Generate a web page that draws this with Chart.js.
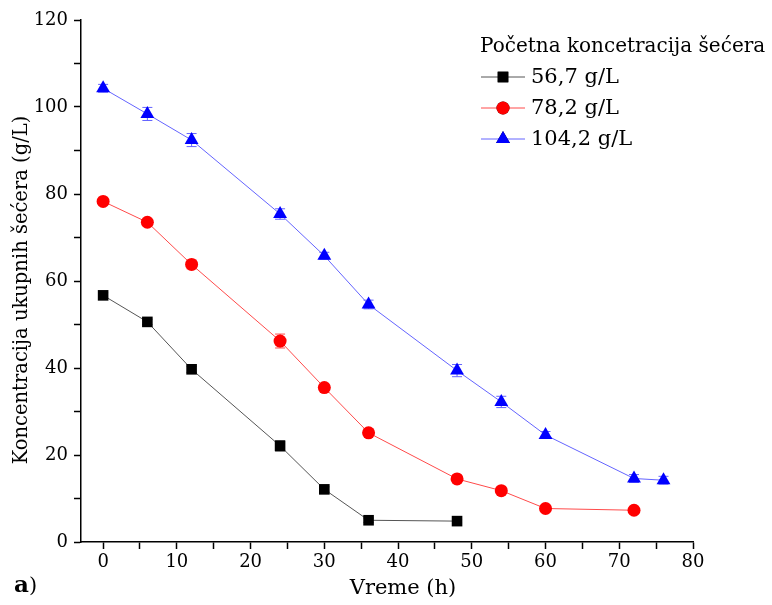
<!DOCTYPE html>
<html lang="sr">
<head>
  <meta charset="UTF-8" />
  <title>Koncentracija šećera</title>
  <script src="https://cdn.jsdelivr.net/npm/chart.js"></script>
  <style>
    body { margin: 0; background: #fff; }
    #wrap { width: 772px; height: 605px; }
  </style>
</head>
<body>
  <div id="wrap"><canvas id="grafik"></canvas></div>

  <script>
    // Podaci (vreme u h, koncentracija u g/L)
    const vreme1 = [0, 6, 12, 24, 30, 36, 48];
    const serija1 = [56.7, 50.6, 39.7, 22.1, 12.1, 5.0, 4.8];
    const greska1 = [0.6, 0.6, 0.7, 1.2, 0.6, 0.5, 0.4];

    const vreme2 = [0, 6, 12, 24, 30, 36, 48, 54, 60, 72];
    const serija2 = [78.3, 73.5, 63.8, 46.2, 35.5, 25.1, 14.5, 11.8, 7.7, 7.3];
    const greska2 = [0.6, 0.6, 1.0, 1.6, 0.6, 0.6, 0.5, 0.5, 0.5, 0.5];

    const vreme3 = [0, 6, 12, 24, 30, 36, 48, 54, 60, 72, 76];
    const serija3 = [104.3, 98.4, 92.4, 75.4, 65.8, 54.6, 39.4, 32.2, 24.6, 14.6, 14.2];
    const greska3 = [0.9, 1.5, 1.5, 1.2, 0.8, 1.0, 1.4, 1.3, 0.8, 0.9, 0.9];

    const nazivi = ['56,7 g/L', '78,2 g/L', '104,2 g/L'];
    const naslovLegende = 'Početna koncetracija šećera';
    const naslovX = 'Vreme (h)';
    const naslovY = 'Koncentracija ukupnih šećera (g/L)';

    const xTicks = [0, 10, 20, 30, 40, 50, 60, 70, 80];
    const yTicks = [0, 20, 40, 60, 80, 100, 120];

    const serif = "'DejaVu Serif', 'Liberation Serif', serif";

    function tacke(xs, ys) {
      return xs.map((x, i) => ({ x: x, y: ys[i] }));
    }

    // Error bars
    const errorBars = {
      id: 'errorBars',
      beforeDatasetDraw(chart, args) {
        const ds = chart.data.datasets[args.index];
        if (!ds.greske) return;
        const ctx = chart.ctx;
        const ys = chart.scales.y;
        const meta = args.meta;
        ctx.save();
        ctx.strokeStyle = ds.borderColor;
        ctx.lineWidth = 1;
        meta.data.forEach((pt, i) => {
          const v = ds.data[i].y;
          const e = ds.greske[i];
          const yTop = ys.getPixelForValue(v + e);
          const yBot = ys.getPixelForValue(v - e);
          ctx.beginPath();
          ctx.moveTo(pt.x, yTop); ctx.lineTo(pt.x, yBot);
          ctx.moveTo(pt.x - 5, yTop); ctx.lineTo(pt.x + 5, yTop);
          ctx.moveTo(pt.x - 5, yBot); ctx.lineTo(pt.x + 5, yBot);
          ctx.stroke();
        });
        ctx.restore();
      }
    };

    // Legenda, naslovi osa i oznaka "a)"
    const legenda = {
      id: 'legenda',
      afterDraw(chart) {
        const ctx = chart.ctx;
        ctx.save();
        ctx.fillStyle = '#000';
        ctx.textBaseline = 'middle';
        ctx.textAlign = 'left';
        ctx.font = "20px " + serif;
        ctx.fillText(naslovLegende, 480, 47);
        ctx.font = "21px " + serif;
        chart.data.datasets.forEach((ds, i) => {
          const y = 77 + i * 31;
          ctx.strokeStyle = ds.borderColor;
          ctx.lineWidth = 1;
          ctx.beginPath();
          ctx.moveTo(481, y); ctx.lineTo(525, y);
          ctx.stroke();
          Chart.helpers.drawPoint(ctx, {
            pointStyle: ds.pointStyle,
            radius: ds.pointRadius,
            borderWidth: 0
          }, 503, y);
          ctx.fillStyle = ds.pointBackgroundColor;
          ctx.fill();
          ctx.fillStyle = '#000';
          ctx.fillText(ds.label, 531, y + 1);
        });

        // naslovi osa
        ctx.textAlign = 'center';
        ctx.font = "21px " + serif;
        ctx.fillText(naslovX, 403, 589);
        ctx.save();
        ctx.translate(22, 290);
        ctx.rotate(-Math.PI / 2);
        ctx.font = "19.5px " + serif;
        ctx.fillText(naslovY, 0, 0);
        ctx.restore();

        ctx.textAlign = 'left';
        ctx.font = "bold 23px " + serif;
        ctx.textBaseline = 'alphabetic';
        ctx.fillText('a', 14, 592);
        const w = ctx.measureText('a').width;
        ctx.font = "21px " + serif;
        ctx.fillText(')', 14 + w, 592);
        ctx.restore();
      }
    };

    new Chart(document.getElementById('grafik'), {
      type: 'line',
      data: {
        datasets: [
          {
            label: nazivi[0],
            data: tacke(vreme1, serija1),
            greske: greska1,
            borderColor: '#555555',
            borderWidth: 1,
            pointStyle: 'rect',
            pointRadius: 7.5,
            pointBackgroundColor: '#000000',
            pointBorderWidth: 0
          },
          {
            label: nazivi[1],
            data: tacke(vreme2, serija2),
            greske: greska2,
            borderColor: '#ff4a4a',
            borderWidth: 1,
            pointStyle: 'circle',
            pointRadius: 6.5,
            pointBackgroundColor: '#ff0000',
            pointBorderWidth: 0
          },
          {
            label: nazivi[2],
            data: tacke(vreme3, serija3),
            greske: greska3,
            borderColor: '#6464ff',
            borderWidth: 1,
            pointStyle: 'triangle',
            pointRadius: 8,
            pointBackgroundColor: '#0000ff',
            pointBorderWidth: 0
          }
        ]
      },
      options: {
        responsive: true,
        maintainAspectRatio: false,
        animation: false,
        layout: { padding: { left: 0, top: 20, right: 79, bottom: 0 } },
        plugins: {
          legend: { display: false },
          tooltip: { enabled: false }
        },
        scales: {
          x: {
            type: 'linear',
            min: -3,
            max: 80,
            afterBuildTicks(scale) {
              const t = [];
              for (let v = 0; v <= 80; v += 5) t.push({ value: v });
              scale.ticks = t;
            },
            afterFit(scale) { scale.height = 63; },
            grid: {
              drawOnChartArea: false,
              drawTicks: true,
              tickLength: 7,
              tickColor: '#000',
              tickWidth: 1.5
            },
            border: { display: true, color: '#000', width: 1.5 },
            ticks: {
              color: '#000',
              padding: 3,
              autoSkip: false,
              maxRotation: 0,
              font: { family: serif, size: 18 },
              callback: (v) => xTicks.includes(v) ? String(v) : ''
            }
          },
          y: {
            min: 0,
            max: 120,
            afterBuildTicks(scale) {
              const t = [];
              for (let v = 0; v <= 120; v += 10) t.push({ value: v });
              scale.ticks = t;
            },
            afterFit(scale) { scale.width = 81; },
            grid: {
              drawOnChartArea: false,
              drawTicks: true,
              tickLength: 7,
              tickColor: '#000',
              tickWidth: 1.5
            },
            border: { display: true, color: '#000', width: 1.5 },
            ticks: {
              color: '#000',
              padding: 6,
              autoSkip: false,
              font: { family: serif, size: 18 },
              callback: (v) => yTicks.includes(v) ? String(v) : ''
            }
          }
        }
      },
      plugins: [errorBars, legenda]
    });
  </script>
</body>
</html>
